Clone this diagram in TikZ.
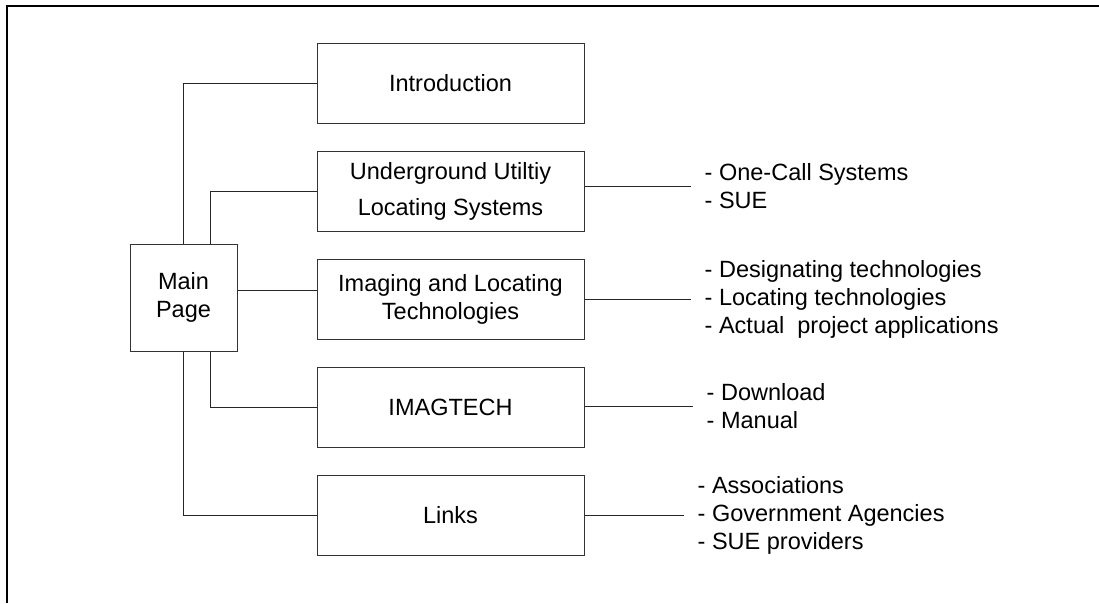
\documentclass[tikz,border=0pt]{standalone}
\usepackage{fontspec}
\setmainfont{Liberation Sans}
\usetikzlibrary{positioning}

\begin{document}
\begin{tikzpicture}[
  x=1pt, y=-1pt,
  node distance=27pt,
  every node/.style={font=\fontsize{23.5}{28}\selectfont},
  page/.style={draw=black!80, line width=1pt, align=center, minimum width=267pt, minimum height=80pt, inner sep=0pt},
  home/.style={page, minimum width=107pt, minimum height=107pt},
  items/.style={align=left, anchor=west, inner xsep=14pt, inner ysep=0pt},
  link/.style={line width=1pt, black!85}
]
\useasboundingbox (0,0) rectangle (1099,603);
\draw[line width=2pt] (1099,6) -- (7,6) -- (7,603);
% site pages
\node[home] (main) at (183.5,297.5) {Main\\Page};
\node[page] (intro) at (450.5,83) {Introduction};
\node[page, below=of intro] (ulocs) {Underground Utiltiy\\[8pt]Locating Systems};
\node[page, below=of ulocs] (tech) {Imaging and Locating\\Technologies};
\node[page, below=of tech] (imag) {IMAGTECH};
\node[page, below=of imag] (links) {Links};
% sub-topics
\node[items, right=106pt of ulocs, yshift=5pt] (ulocs-list) {- One-Call Systems\\- SUE};
\node[items, right=106pt of tech] (tech-list) {- Designating technologies\\- Locating technologies\\- Actual\ \ project applications};
\node[items, right=108pt of imag, yshift=1pt] (imag-list) {- Download\\- Manual};
\node[items, right=99pt of links] (links-list) {- Associations\\- Government Agencies\\- SUE providers};
% tree
\draw[link] (main.north) |- (intro.west);
\draw[link] ([xshift=27pt]main.north) |- (ulocs.west);
\draw[link] ([yshift=7pt]main.east) -- ([yshift=7pt]main.east -| tech.west);
\draw[link] ([xshift=27pt]main.south) |- (imag.west);
\draw[link] (main.south) |- (links.west);
\draw[link] (ulocs-list.west) -- (ulocs-list.west -| ulocs.east);
\draw[link] (tech.east) -- (tech-list.west);
\draw[link] (imag-list.west) -- (imag-list.west -| imag.east);
\draw[link] (links.east) -- (links-list.west);
\end{tikzpicture}
\end{document}
